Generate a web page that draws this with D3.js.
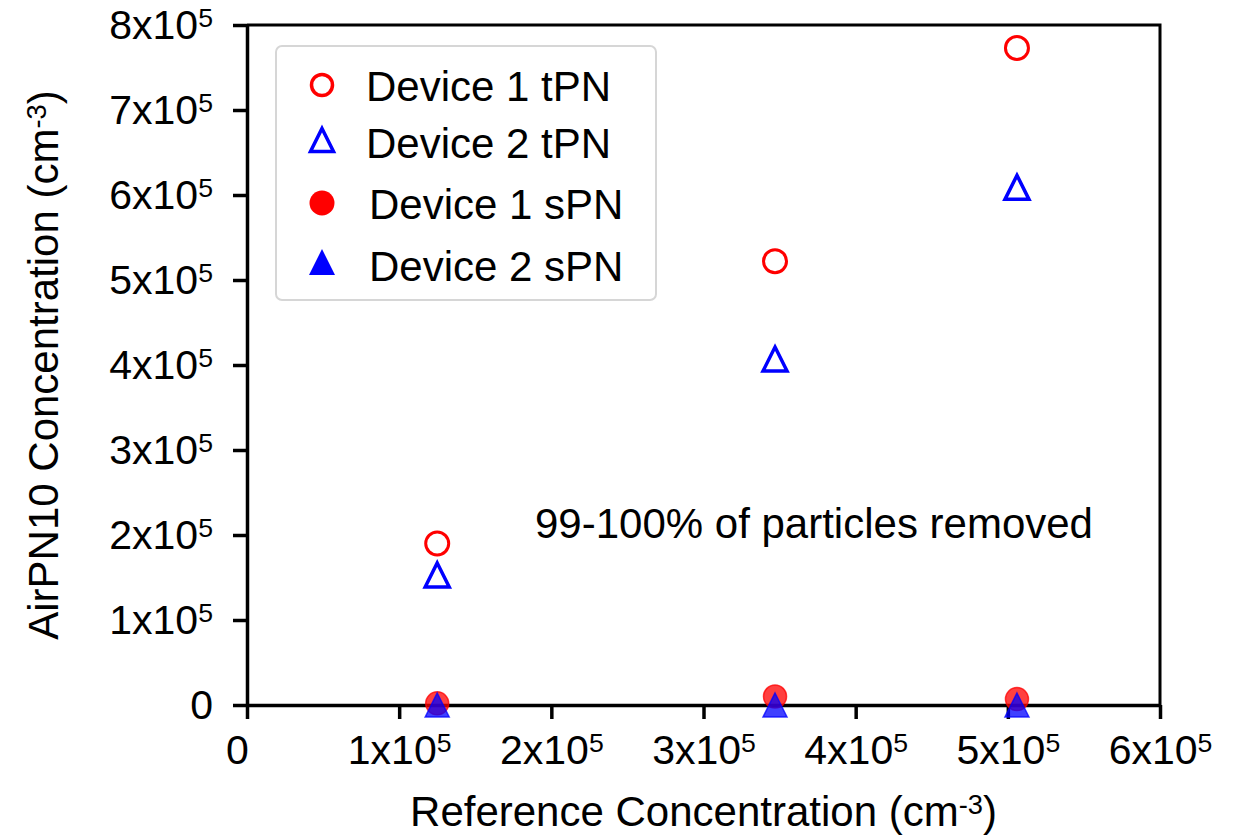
<!DOCTYPE html>
<html>
<head>
<meta charset="utf-8">
<script src="https://cdn.jsdelivr.net/npm/d3@7"></script>
<style>
  body { margin: 0; background: #fff; }
  text { font-family: "Liberation Sans", Arial, sans-serif; fill: #000; }
</style>
</head>
<body>
<svg id="chart"></svg>
<script>
// Data
const refConc = [1.25e5, 3.47e5, 5.06e5];
const dev1tPN = [1.90e5, 5.22e5, 7.73e5];
const dev2tPN = [1.53e5, 4.07e5, 6.09e5];
const dev1sPN = [0.02e5, 0.10e5, 0.07e5];
const dev2sPN = [0.00e5, 0.00e5, 0.00e5];
const xTicks = [0, 1e5, 2e5, 3e5, 4e5, 5e5, 6e5];
const yTicks = [0, 1e5, 2e5, 3e5, 4e5, 5e5, 6e5, 7e5, 8e5];

const series = [
  {name: 'Device 1 tPN', values: dev1tPN, shape: 'circle', color: 'red', filled: false},
  {name: 'Device 2 tPN', values: dev2tPN, shape: 'triangle', color: 'blue', filled: false},
  {name: 'Device 1 sPN', values: dev1sPN, shape: 'circle', color: 'red', filled: true},
  {name: 'Device 2 sPN', values: dev2sPN, shape: 'triangle', color: 'blue', filled: true}
];

const width = 1243, height = 836;
const margin = {top: 25, right: 83, bottom: 131, left: 247};
const fontSize = 42, tickFont = 41;

const svg = d3.select('#chart')
    .attr('width', width)
    .attr('height', height);

const x = d3.scaleLinear().domain([0, 6e5]).range([margin.left, width - margin.right]);
const y = d3.scaleLinear().domain([0, 8e5]).range([height - margin.bottom, margin.top]);

// label like 3x10^5 with superscript
function sciLabel(sel) {
  sel.each(function(d) {
    const t = d3.select(this);
    t.text(null);
    if (d === 0) { t.text('0'); return; }
    const m = Math.round(d / 1e5);
    t.append('tspan').text(m + 'x10');
    t.append('tspan').attr('dy', '-0.45em').attr('font-size', '0.65em').text('5');
  });
}

// marker shapes: circle, and matplotlib style triangle (width = height)
function markerPath(shape, r) {
  if (shape === 'circle') return d3.symbol().type(d3.symbolCircle).size(Math.PI * r * r)();
  const p = d3.path();
  p.moveTo(0, -r); p.lineTo(r, r); p.lineTo(-r, r); p.closePath();
  return p.toString();
}

// frame (top and right)
svg.append('path')
    .attr('d', `M${x(0)},${y(8e5)}H${x(6e5)}V${y(0)}`)
    .attr('fill', 'none')
    .attr('stroke', '#000')
    .attr('stroke-width', 3);

// axes
const xAxis = svg.append('g')
    .attr('transform', 'translate(0,' + y(0) + ')')
    .call(d3.axisBottom(x).tickValues(xTicks).tickSize(14).tickSizeOuter(0).tickPadding(16));
const yAxis = svg.append('g')
    .attr('transform', 'translate(' + x(0) + ',0)')
    .call(d3.axisLeft(y).tickValues(yTicks).tickSize(14).tickSizeOuter(0).tickPadding(20));

[xAxis, yAxis].forEach(a => {
  a.select('.domain').attr('stroke-width', 3.5);
  a.selectAll('.tick line').attr('stroke-width', 3.5);
  a.selectAll('.tick text')
      .attr('font-size', tickFont)
      .style('font-family', '"Liberation Sans", Arial, sans-serif')
      .call(sciLabel);
});
// the 0 on the x axis sits a little left of its tick
xAxis.selectAll('.tick text').filter(d => d === 0).attr('x', -10);

// axis titles
const xt = svg.append('text')
    .attr('x', (x(0) + x(6e5)) / 2)
    .attr('y', 826)
    .attr('text-anchor', 'middle')
    .attr('font-size', fontSize);
xt.append('tspan').text('Reference Concentration (cm');
xt.append('tspan').attr('dy', '-0.45em').attr('font-size', '0.65em').text('-3');
xt.append('tspan').attr('dy', '0.3em').text(')');

const yt = svg.append('text')
    .attr('transform', 'translate(58,' + ((y(0) + y(8e5)) / 2) + ') rotate(-90)')
    .attr('text-anchor', 'middle')
    .attr('font-size', fontSize);
yt.append('tspan').text('AirPN10 Concentration (cm');
yt.append('tspan').attr('dy', '-0.45em').attr('font-size', '0.65em').text('-3');
yt.append('tspan').attr('dy', '0.3em').text(')');

// markers
series.forEach(s => {
  svg.append('g')
    .selectAll('path')
    .data(s.values.map((v, i) => ({x: refConc[i], y: v})))
    .enter()
    .append('path')
    .attr('transform', d => `translate(${x(d.x)},${y(d.y)})`)
    .attr('d', markerPath(s.shape, s.shape === 'circle' ? 11.5 : 12))
    .attr('fill', s.filled ? s.color : 'none')
    .attr('fill-opacity', s.filled ? 0.75 : 0)
    .attr('stroke', s.color)
    .attr('stroke-opacity', s.filled ? 0.75 : 1)
    .attr('stroke-width', s.filled ? 1.5 : (s.shape === 'triangle' ? 3.5 : 3));
});

// legend
const legend = svg.append('g');
legend.append('rect')
    .attr('x', 276).attr('y', 46)
    .attr('width', 380).attr('height', 254)
    .attr('rx', 6)
    .attr('fill', '#fff')
    .attr('stroke', '#d6d6d6')
    .attr('stroke-width', 2);
const rowY = [85, 140, 203, 262];
const textBase = [101, 158, 219, 281];
series.forEach((s, i) => {
  legend.append('path')
      .attr('transform', `translate(322,${rowY[i]})`)
      .attr('d', markerPath(s.shape, s.shape === 'circle' ? (s.filled ? 12.5 : 10.5) : (s.filled ? 13 : 11.5)))
      .attr('fill', s.filled ? s.color : 'none')
      .attr('stroke', s.color)
      .attr('stroke-width', s.filled ? 0 : 3.5);
  legend.append('text')
      .attr('x', s.filled ? 369 : 366)
      .attr('y', textBase[i])
      .attr('font-size', fontSize)
      .text(s.name);
});

// annotation
svg.append('text')
    .attr('x', 535)
    .attr('y', 538)
    .attr('font-size', fontSize)
    .text('99-100% of particles removed');
</script>
</body>
</html>
